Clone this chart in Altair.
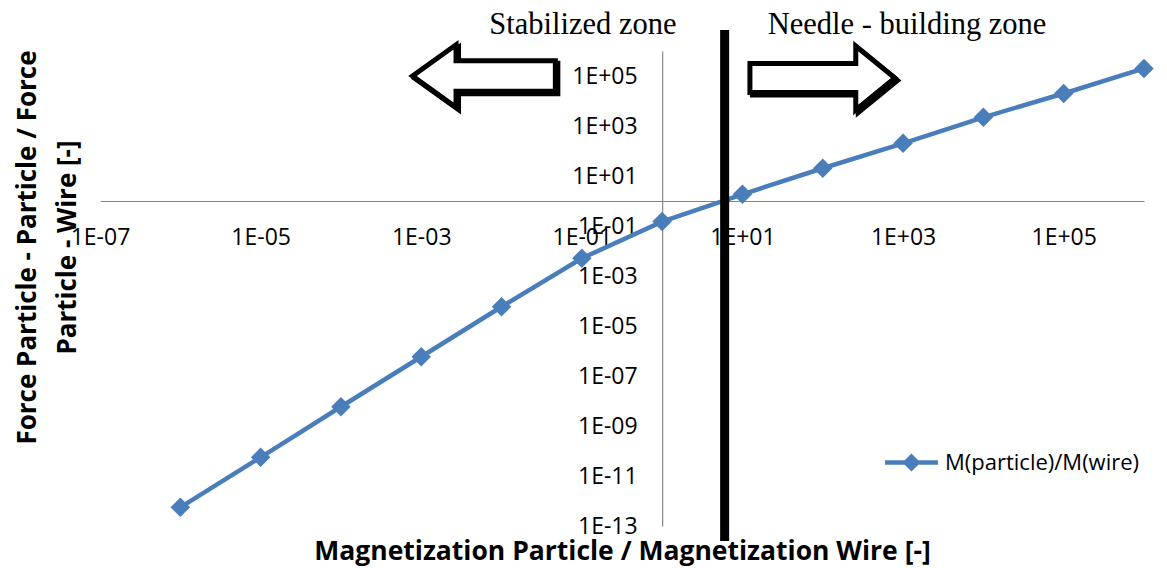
import altair as alt
import pandas as pd
import math

# ---------------- data ----------------
x_vals = [1e-6, 1e-5, 1e-4, 1e-3, 1e-2, 1e-1, 1e0, 1e1, 1e2, 1e3, 1e4, 1e5, 1e6]
y_vals = [5.6e-13, 5.6e-11, 5.9e-09, 5.9e-07, 5.9e-05, 5.1e-03, 0.15, 1.85,
          20.4, 203, 2230, 2.0e4, 2.0e5]
series_name = "M(particle)/M(wire)"
x_ticks = [1e-7, 1e-5, 1e-3, 1e-1, 1e1, 1e3, 1e5]
y_ticks = [1e-13, 1e-11, 1e-9, 1e-7, 1e-5, 1e-3, 1e-1, 1e1, 1e3, 1e5]
x_domain = [1e-7, 1e6]
y_domain = [1e-13, 1e6]

zone_labels = ["Stabilized zone", "Needle - building zone"]
zone_label_x = [0.103, 1.12e3]
zone_label_y = [4.8e6, 4.8e6]
boundary_x = 6.0
boundary_y = [6.9e6, 2.5e-14]
arrow_x = [6.1e-3, 99.0]
arrow_y = [1.0e5, 8.3e4]

# ---------------- layout ----------------
W, H = 1044, 475
PAD = {"left": 92, "top": 43, "right": 15, "bottom": 40}
BLUE = "#4a7ebb"
FONT = "Open Sans"

x_frac_one = (0 - math.log10(x_domain[0])) / (math.log10(x_domain[1]) - math.log10(x_domain[0]))
y_frac_one = (math.log10(y_domain[1]) - 0) / (math.log10(y_domain[1]) - math.log10(y_domain[0]))
y_axis_pos = W * x_frac_one      # pixel of x=1
x_axis_pos = H * y_frac_one      # pixel of y=1

label_expr = ("'1E' + (round(log(datum.value)/LN10) >= 0 ? '+' : '-') + "
              "(abs(round(log(datum.value)/LN10)) < 10 ? '0' : '') + "
              "abs(round(log(datum.value)/LN10))")

df = pd.DataFrame({"x": x_vals, "y": y_vals, "series": series_name})

xscale = alt.Scale(type="log", domain=x_domain, nice=False)
yscale = alt.Scale(type="log", domain=y_domain, nice=False)

x_axis = alt.Axis(
    orient="bottom", offset=-(H - x_axis_pos), values=x_ticks, labelExpr=label_expr,
    grid=False, ticks=False, tickSize=0, domainColor="#868686", domainWidth=1.2,
    labelFont=FONT, labelFontSize=23, labelColor="#000000", labelPadding=25,
    labelFlush=False, labelOverlap=False, labelBaseline="top",
    title="Magnetization Particle / Magnetization Wire [-]",
    titleFont=FONT, titleFontSize=26.5, titleFontWeight="bold", titleColor="#000000",
    titleX=W / 2, titleY=H - x_axis_pos + 25, titleBaseline="middle", titleAlign="center",
)
y_axis = alt.Axis(
    orient="left", offset=-y_axis_pos, values=y_ticks, labelExpr=label_expr,
    grid=False, ticks=False, tickSize=0, domainColor="#868686", domainWidth=1.2,
    labelFont=FONT, labelFontSize=23, labelColor="#000000", labelPadding=25,
    labelFlush=False, labelOverlap=False, labelAlign="right", labelBaseline="middle",
    title=["Force Particle - Particle / Force", "Particle - Wire [-]"],
    titleFont=FONT, titleFontSize=26, titleFontWeight="bold", titleColor="#000000",
    titleAngle=270, titleX=-y_axis_pos - 73, titleY=196, titleBaseline="middle",
    titleAlign="center", titleLineHeight=40,
)

base = alt.Chart(df)

line = base.mark_line(color=BLUE, strokeWidth=4.5).encode(
    x=alt.X("x:Q", scale=xscale, axis=x_axis),
    y=alt.Y("y:Q", scale=yscale, axis=y_axis),
)

legend_shape = ("M -1 -0.085 L 1 -0.085 L 1 0.085 L -1 0.085 Z "
                "M -0.34 0 L 0 -0.34 L 0.34 0 L 0 0.34 Z")
points = base.mark_point(shape="diamond", filled=True, size=380, opacity=1).encode(
    x=alt.X("x:Q", scale=xscale),
    y=alt.Y("y:Q", scale=yscale),
    color=alt.Color(
        "series:N", scale=alt.Scale(range=[BLUE]),
        legend=alt.Legend(
            title=None, orient="none", legendX=785, legendY=385, padding=0,
            symbolType=legend_shape, symbolSize=2809, symbolStrokeWidth=0,
            symbolFillColor=BLUE, symbolOpacity=1, labelLimit=0,
            labelFont=FONT, labelFontSize=22, labelColor="#000000", labelOffset=7,
        ),
    ),
)

# boundary rule
rule_df = pd.DataFrame({"x": [boundary_x], "y": [boundary_y[0]], "y2": [boundary_y[1]]})
rule = alt.Chart(rule_df).mark_rule(color="#000000", strokeWidth=9).encode(
    x=alt.X("x:Q", scale=xscale), y=alt.Y("y:Q", scale=yscale), y2="y2:Q"
)

# zone labels
zone_df = pd.DataFrame({"x": zone_label_x, "y": zone_label_y, "t": zone_labels})
zone_text = alt.Chart(zone_df).mark_text(
    font="Liberation Serif", fontSize=30.5, color="#000000", align="center", baseline="alphabetic"
).encode(x=alt.X("x:Q", scale=xscale), y=alt.Y("y:Q", scale=yscale), text="t:N")

# arrows
left_path = "M -0.99 0 L -0.39 -0.43 L -0.39 -0.21 L 0.98 -0.21 L 0.98 0.21 L -0.39 0.21 L -0.39 0.43 Z"
right_path = "M 1 0 L 0.46 -0.44 L 0.46 -0.2 L -1 -0.2 L -1 0.2 L 0.46 0.2 L 0.46 0.44 Z"
arrow_layers = []
for ax_, ay_, pth in [(arrow_x[0], arrow_y[0], left_path), (arrow_x[1], arrow_y[1], right_path)]:
    adf = pd.DataFrame({"x": [ax_], "y": [ay_]})
    shadow = alt.Chart(adf).mark_point(
        shape=pth, size=145 ** 2, filled=False, stroke="#000000", strokeWidth=5,
        opacity=1, xOffset=2.5, yOffset=2.5, strokeJoin="miter"
    ).encode(x=alt.X("x:Q", scale=xscale), y=alt.Y("y:Q", scale=yscale))
    main = alt.Chart(adf).mark_point(
        shape=pth, size=145 ** 2, filled=True, fill="#ffffff", stroke="#000000",
        strokeWidth=5, opacity=1, strokeJoin="miter"
    ).encode(x=alt.X("x:Q", scale=xscale), y=alt.Y("y:Q", scale=yscale))
    arrow_layers += [shadow, main]

chart = alt.layer(line, points, *arrow_layers, zone_text, rule).properties(
    width=W, height=H, padding=PAD, autosize=alt.AutoSizeParams(type="none"),
    background="#ffffff",
).configure_view(stroke=None)

chart.save("out.html", embed_options={"renderer": "svg", "actions": False})
